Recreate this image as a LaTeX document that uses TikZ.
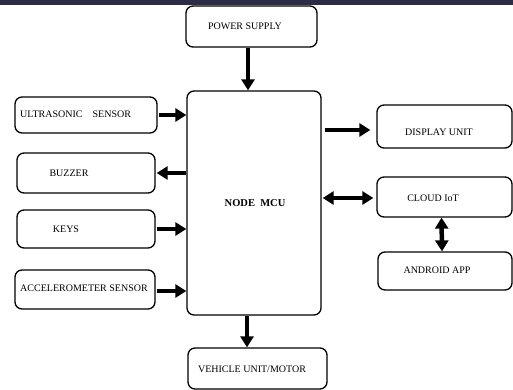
\documentclass[tikz,border=0pt]{standalone}
\usepackage{fontspec}
\setmainfont{Liberation Serif}
\usetikzlibrary{arrows.meta,calc}
\definecolor{band}{HTML}{2E2C44}
\tikzset{
  box/.style={draw=black, line width=1.3pt, rounded corners=7pt, inner sep=0pt, fill=white},
  lbl/.style={font=\fontsize{10}{12}\selectfont, inner sep=0pt},
  arr/.style={line width=4.5pt, -{Triangle[length=11pt,width=13pt]}},
  darr/.style={line width=4.5pt, {Triangle[length=11pt,width=13pt]}-{Triangle[length=11pt,width=13pt]}}
}
\begin{document}
\begin{tikzpicture}[x=1pt,y=-1pt]
\useasboundingbox (0,0) rectangle (513,390);
\fill[white] (0,0) rectangle (513,390);
\fill[band] (0,0) rectangle (513,5);
% boxes
\node[box, minimum width=131pt, minimum height=41pt] (ps) at (251.5,26.5) {};
\node[box, minimum width=134pt, minimum height=224pt] (mcu) at (254,203) {};
\node[box, minimum width=142pt, minimum height=36pt] (us) at (86,115) {};
\node[box, minimum width=138pt, minimum height=40pt] (bz) at (86,173) {};
\node[box, minimum width=138pt, minimum height=38pt] (ky) at (86,229) {};
\node[box, minimum width=140pt, minimum height=39pt] (ac) at (85,289.5) {};
\node[box, minimum width=135pt, minimum height=43pt] (du) at (444.5,126.5) {};
\node[box, minimum width=135pt, minimum height=40pt] (cl) at (444.5,197) {};
\node[box, minimum width=134pt, minimum height=38pt] (aa) at (445,271) {};
\node[box, minimum width=139pt, minimum height=41pt] (vm) at (257.5,368.5) {};
% labels
\node[lbl] (pst) at (245,26) {POWER SUPPLY};
\node[lbl, font=\fontsize{10.5}{12}\selectfont\bfseries] (mcut) at (255,203) {NODE\ \ MCU};
\node[lbl, anchor=west] (ust) at (20,114) {ULTRASONIC\ \ \ \ SENSOR};
\node[lbl] (bzt) at (69,173) {BUZZER};
\node[lbl] (kyt) at (66,229) {KEYS};
\node[lbl] (act) at (84,288) {ACCELEROMETER SENSOR};
\node[lbl] (dut) at (439,132) {DISPLAY UNIT};
\node[lbl] (clt) at (433,198) {CLOUD IoT};
\node[lbl] (aat) at (437,270) {ANDROID APP};
\node[lbl] (vmt) at (252,369) {VEHICLE UNIT/MOTOR};
% connectors
\draw[arr] (ps.south -| 248,0) -- (mcu.north -| 248,0);
\draw[arr] (us.east) ++(1,0) -- (us.east -| mcu.west);
\draw[arr] (bz.east -| mcu.west) -- ($(bz.east)+(1,0)$);
\draw[arr] (ky.east) ++(1,0) -- (ky.east -| mcu.west);
\draw[arr] ($(ac.east)+(1,1.5)$) -- ($(ac.east -| mcu.west)+(0,1.5)$);
\draw[arr, shorten >=6pt] ($(mcu.east |- du.west)+(3,3.5)$) -- ($(du.west)+(0,3.5)$);
\draw[darr, shorten >=3pt] ($(mcu.east |- cl.west)+(1,1)$) -- ($(cl.west)+(0,1)$);
\draw[darr] ($(cl.south)+(-3,0)$) -- ($(aa.north)+(-3,0)$);
\draw[arr] (mcu.south -| 247,0) -- (vm.north -| 247,0);
\end{tikzpicture}
\end{document}
